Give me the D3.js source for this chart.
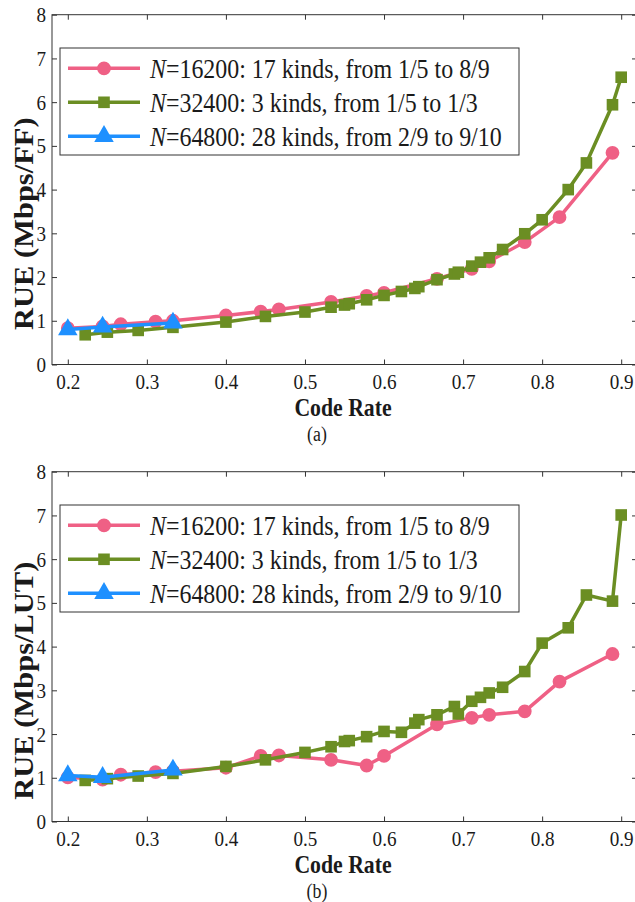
<!DOCTYPE html>
<html>
<head>
<meta charset="utf-8">
<script src="https://cdnjs.cloudflare.com/ajax/libs/d3/7.8.5/d3.min.js"></script>
<style>
  html, body { margin: 0; padding: 0; background: #fff; }
  svg { display: block; }
</style>
</head>
<body>
<svg id="chart" width="635" height="902"></svg>
<script>
// Code rates of each frame-length family
const rates16200 = [0.2, 0.244, 0.267, 0.311, 0.333, 0.4, 0.444, 0.467, 0.533, 0.578, 0.6, 0.667, 0.711, 0.733, 0.778, 0.822, 0.889];
const rates32400 = [0.222, 0.25, 0.289, 0.333, 0.4, 0.45, 0.5, 0.533, 0.55, 0.556, 0.578, 0.6, 0.622, 0.639, 0.644, 0.667, 0.689, 0.694, 0.711, 0.722, 0.733, 0.75, 0.778, 0.8, 0.833, 0.856, 0.889, 0.9];
const rates64800 = [0.2, 0.244, 0.333];

// (a) RUE in Mbps per flip-flop
const rueFF16200 = [0.83, 0.87, 0.92, 0.98, 1.0, 1.12, 1.21, 1.26, 1.43, 1.57, 1.64, 1.96, 2.19, 2.36, 2.8, 3.37, 4.84];
const rueFF32400 = [0.68, 0.74, 0.78, 0.85, 0.97, 1.1, 1.2, 1.31, 1.36, 1.39, 1.48, 1.58, 1.67, 1.74, 1.78, 1.94, 2.07, 2.11, 2.25, 2.34, 2.44, 2.63, 2.99, 3.31, 4.0, 4.61, 5.94, 6.57];
const rueFF64800 = [0.8, 0.86, 0.95];

// (b) RUE in Mbps per LUT
const rueLUT16200 = [1.01, 0.96, 1.07, 1.13, 1.15, 1.23, 1.5, 1.51, 1.41, 1.28, 1.5, 2.22, 2.37, 2.44, 2.52, 3.2, 3.83];
const rueLUT32400 = [0.94, 0.98, 1.04, 1.1, 1.26, 1.41, 1.58, 1.71, 1.83, 1.85, 1.94, 2.06, 2.04, 2.25, 2.33, 2.44, 2.63, 2.46, 2.75, 2.84, 2.94, 3.07, 3.43, 4.08, 4.43, 5.18, 5.04, 7.01];
const rueLUT64800 = [1.05, 1.01, 1.18];

const xTicks = [0.2, 0.3, 0.4, 0.5, 0.6, 0.7, 0.8, 0.9];
const yTicks = [0, 1, 2, 3, 4, 5, 6, 7, 8];

const seriesNames = [
  { n: "16200", rest: ": 17 kinds, from 1/5 to 8/9" },
  { n: "32400", rest: ": 3 kinds, from 1/5 to 1/3" },
  { n: "64800", rest: ": 28 kinds, from 2/9 to 9/10" }
];
const colors = ["#ef6085", "#6b8e23", "#1e90ff"];
const shapes = [d3.symbolCircle, d3.symbolSquare, d3.symbolTriangle];
const shapeSizes = [150, 135, 165];

const panels = [
  { top: 14.7, yLabel: "RUE (Mbps/FF)", caption: "(a)",
    values: [rueFF16200, rueFF32400, rueFF64800] },
  { top: 471.7, yLabel: "RUE (Mbps/LUT)", caption: "(b)",
    values: [rueLUT16200, rueLUT32400, rueLUT64800] }
];
const rates = [rates16200, rates32400, rates64800];

const FONT = "Liberation Serif";
const SX = 0.87;          // glyphs are set slightly narrow
const svg = d3.select("#chart");
const left = 52, right = 637, plotH = 349.8;

// place a text at (x, y) with narrowed glyphs
function narrowText(parent, x, y, str, size, opts = {}) {
  const rot = opts.rotate ? ` rotate(${opts.rotate})` : "";
  return parent.append("text")
    .attr("transform", `translate(${x},${y}) scale(${SX},1)${rot}`)
    .attr("text-anchor", opts.anchor || "start")
    .attr("dy", "0.35em")
    .attr("font-family", FONT).attr("font-size", size)
    .attr("font-weight", opts.bold ? "bold" : "normal")
    .attr("fill", "#1a1a1a")
    .text(str);
}

panels.forEach(p => {
  const g = svg.append("g");
  const x = d3.scaleLinear().domain([0.18, 0.92]).range([left, right]);
  const y = d3.scaleLinear().domain([0, 8]).range([p.top + plotH, p.top]);

  // frame
  g.append("rect")
    .attr("x", left).attr("y", p.top)
    .attr("width", right - left).attr("height", plotH)
    .attr("fill", "none").attr("stroke", "#333").attr("stroke-width", 1);

  const styleAxis = sel => {
    sel.attr("font-family", FONT).attr("font-size", 22);
    sel.select(".domain").remove();
    sel.selectAll(".tick line").attr("stroke", "#333");
    sel.selectAll(".tick text").attr("fill", "#1a1a1a").attr("font-family", FONT);
  };

  const bottom = g.append("g").attr("transform", `translate(0,${p.top + plotH})`)
    .call(d3.axisBottom(x).tickValues(xTicks).tickFormat(d3.format(".1f")).tickSize(-5))
    .call(styleAxis);
  bottom.selectAll(".tick text")
    .attr("y", null).attr("dy", "0.35em")
    .attr("transform", `translate(0,17) scale(${SX},1)`);

  g.append("g").attr("transform", `translate(0,${p.top})`)
    .call(d3.axisTop(x).tickValues(xTicks).tickFormat("").tickSize(-5))
    .call(styleAxis);

  const leftAx = g.append("g").attr("transform", `translate(${left},0)`)
    .call(d3.axisLeft(y).tickValues(yTicks).tickFormat(d3.format("d")).tickSize(-5))
    .call(styleAxis);
  leftAx.selectAll(".tick text")
    .attr("x", null)
    .attr("transform", `translate(-6,0) scale(${SX},1)`);

  g.append("g").attr("transform", `translate(${right},0)`)
    .call(d3.axisRight(y).tickValues(yTicks).tickFormat("").tickSize(-5))
    .call(styleAxis);

  // series lines and markers
  const line = d3.line().x(d => x(d[0])).y(d => y(d[1]));
  p.values.forEach((vals, i) => {
    const pts = rates[i].map((r, k) => [r, vals[k]]);
    g.append("path").datum(pts)
      .attr("d", line).attr("fill", "none")
      .attr("stroke", colors[i]).attr("stroke-width", 3.5)
      .attr("stroke-linejoin", "round");
    g.selectAll(null).data(pts).enter().append("path")
      .attr("transform", d => `translate(${x(d[0])},${y(d[1])})`)
      .attr("d", d3.symbol().type(shapes[i]).size(shapeSizes[i]))
      .attr("fill", colors[i]);
  });

  // legend
  const lg = g.append("g").attr("transform", `translate(60,${p.top + 33.3})`);
  lg.append("rect").attr("width", 459).attr("height", 107)
    .attr("fill", "#fff").attr("stroke", "#333").attr("stroke-width", 1);
  seriesNames.forEach((s, i) => {
    const ry = 20.3 + i * 34;
    lg.append("line").attr("x1", 8).attr("x2", 80).attr("y1", ry).attr("y2", ry)
      .attr("stroke", colors[i]).attr("stroke-width", 3.5);
    lg.append("path").attr("transform", `translate(44,${ry})`)
      .attr("d", d3.symbol().type(shapes[i]).size(shapeSizes[i]))
      .attr("fill", colors[i]);
    const t = narrowText(lg, 90, ry, null, 27.5);
    t.append("tspan").attr("font-style", "italic").text("N");
    t.append("tspan").text("=" + s.n + s.rest);
  });

  // axis titles and caption
  narrowText(g, 24, p.top + 209, p.yLabel, 30.5, { anchor: "middle", bold: true, rotate: -90 });
  narrowText(g, 343, p.top + 393, "Code Rate", 25, { anchor: "middle", bold: true });
  narrowText(g, 317, p.top + 419.5, p.caption, 20.5, { anchor: "middle" });
});
</script>
</body>
</html>
